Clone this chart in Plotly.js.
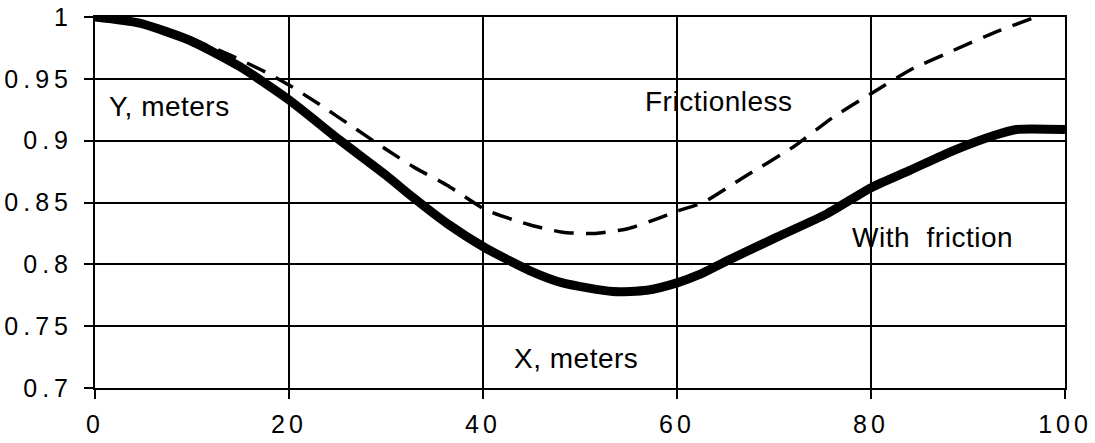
<!DOCTYPE html>
<html>
<head>
<meta charset="utf-8">
<script src="https://cdn.plot.ly/plotly-3.0.1.min.js"></script>
<style>
  html, body { margin: 0; padding: 0; background: #fff; }
  #chart { width: 1095px; height: 443px; }
  .xtick text { letter-spacing: 4px; }
  .ytick text { letter-spacing: 5px; }
  .annotation-text { letter-spacing: 0.5px; }
</style>
</head>
<body>
<div id="chart"></div>
<script>
// Frictionless (dashed) curve
const xFrictionless = [0, 5, 10, 14, 17.7, 20, 23, 26.6, 30, 33, 36.3, 40.3, 44.8, 48.2, 51.6, 55, 58, 60, 62.7, 66.8, 72, 76.1, 80, 84, 88.5, 92.6, 97];
const yFrictionless = [1, 0.995, 0.982, 0.969, 0.955, 0.945, 0.93, 0.911, 0.893, 0.878, 0.864, 0.844, 0.832, 0.826, 0.825, 0.829, 0.837, 0.843, 0.850, 0.870, 0.895, 0.919, 0.938, 0.957, 0.973, 0.987, 1.0];

// With friction (thick solid) curve
const xFriction = [0, 4.6, 9.8, 14.9, 20, 25.3, 30, 32.8, 36.3, 40.3, 44.8, 48.2, 53.4, 56.9, 60, 62.4, 65.2, 70.3, 75.5, 80, 84, 88.5, 92.6, 95, 100];
const yFriction = [1, 0.995, 0.981, 0.96, 0.933, 0.9, 0.872, 0.854, 0.833, 0.813, 0.795, 0.785, 0.778, 0.779, 0.785, 0.792, 0.803, 0.822, 0.841, 0.862, 0.876, 0.892, 0.904, 0.909, 0.909];

// Axis ticks
const xTickVals = [0, 20, 40, 60, 80, 100];
const xTickText = ['0', '20', '40', '60', '80', '100'];
const yTickVals = [0.7, 0.75, 0.8, 0.85, 0.9, 0.95, 1];
const yTickText = ['0.7', '0.75', '0.8', '0.85', '0.9', '0.95', '1'];

// In-plot labels
const labelTexts = ['Y, meters', 'Frictionless', 'With  friction', 'X, meters'];
const labelX = [1.2, 56.5, 77.8, 43];
const labelY = [0.928, 0.932, 0.822, 0.724];

const font = 'Liberation Sans, Arial, Helvetica, sans-serif';

const traces = [
  {
    x: xFrictionless, y: yFrictionless, type: 'scatter', mode: 'lines',
    line: { color: '#000', width: 3.5, dash: '20px,12px', shape: 'spline', smoothing: 0.6 },
    hoverinfo: 'skip', name: 'Frictionless'
  },
  {
    x: xFriction, y: yFriction, type: 'scatter', mode: 'lines',
    line: { color: '#000', width: 9, shape: 'spline', smoothing: 0.6 },
    hoverinfo: 'skip', name: 'With friction'
  }
];

const annotations = labelTexts.map((t, i) => ({
  x: labelX[i], y: labelY[i], xref: 'x', yref: 'y',
  text: t, showarrow: false, xanchor: 'left', yanchor: 'middle',
  font: { family: font, size: 28, color: '#000' }
}));

const layout = {
  width: 1095, height: 443,
  margin: { l: 95, r: 30, t: 17, b: 55, pad: 0 },
  paper_bgcolor: '#fff', plot_bgcolor: '#fff',
  showlegend: false,
  font: { family: font, color: '#000' },
  xaxis: {
    range: [0, 100], tickvals: xTickVals, ticktext: xTickText,
    showgrid: true, gridcolor: '#000', gridwidth: 2,
    showline: true, linecolor: '#000', linewidth: 2, mirror: true,
    ticks: 'outside', ticklen: 9, tickwidth: 2, tickcolor: '#000',
    ticklabelstandoff: 4,
    tickfont: { family: font, size: 25, color: '#000' },
    zeroline: false, fixedrange: true
  },
  yaxis: {
    range: [0.7, 1.0], tickvals: yTickVals, ticktext: yTickText,
    showgrid: true, gridcolor: '#000', gridwidth: 2,
    showline: true, linecolor: '#000', linewidth: 2, mirror: true,
    ticks: 'outside', ticklen: 9, tickwidth: 2, tickcolor: '#000',
    ticklabelstandoff: 6,
    tickfont: { family: font, size: 25, color: '#000' },
    zeroline: false, fixedrange: true
  },
  annotations: annotations
};

Plotly.newPlot('chart', traces, layout, { staticPlot: true, displayModeBar: false });
</script>
</body>
</html>
